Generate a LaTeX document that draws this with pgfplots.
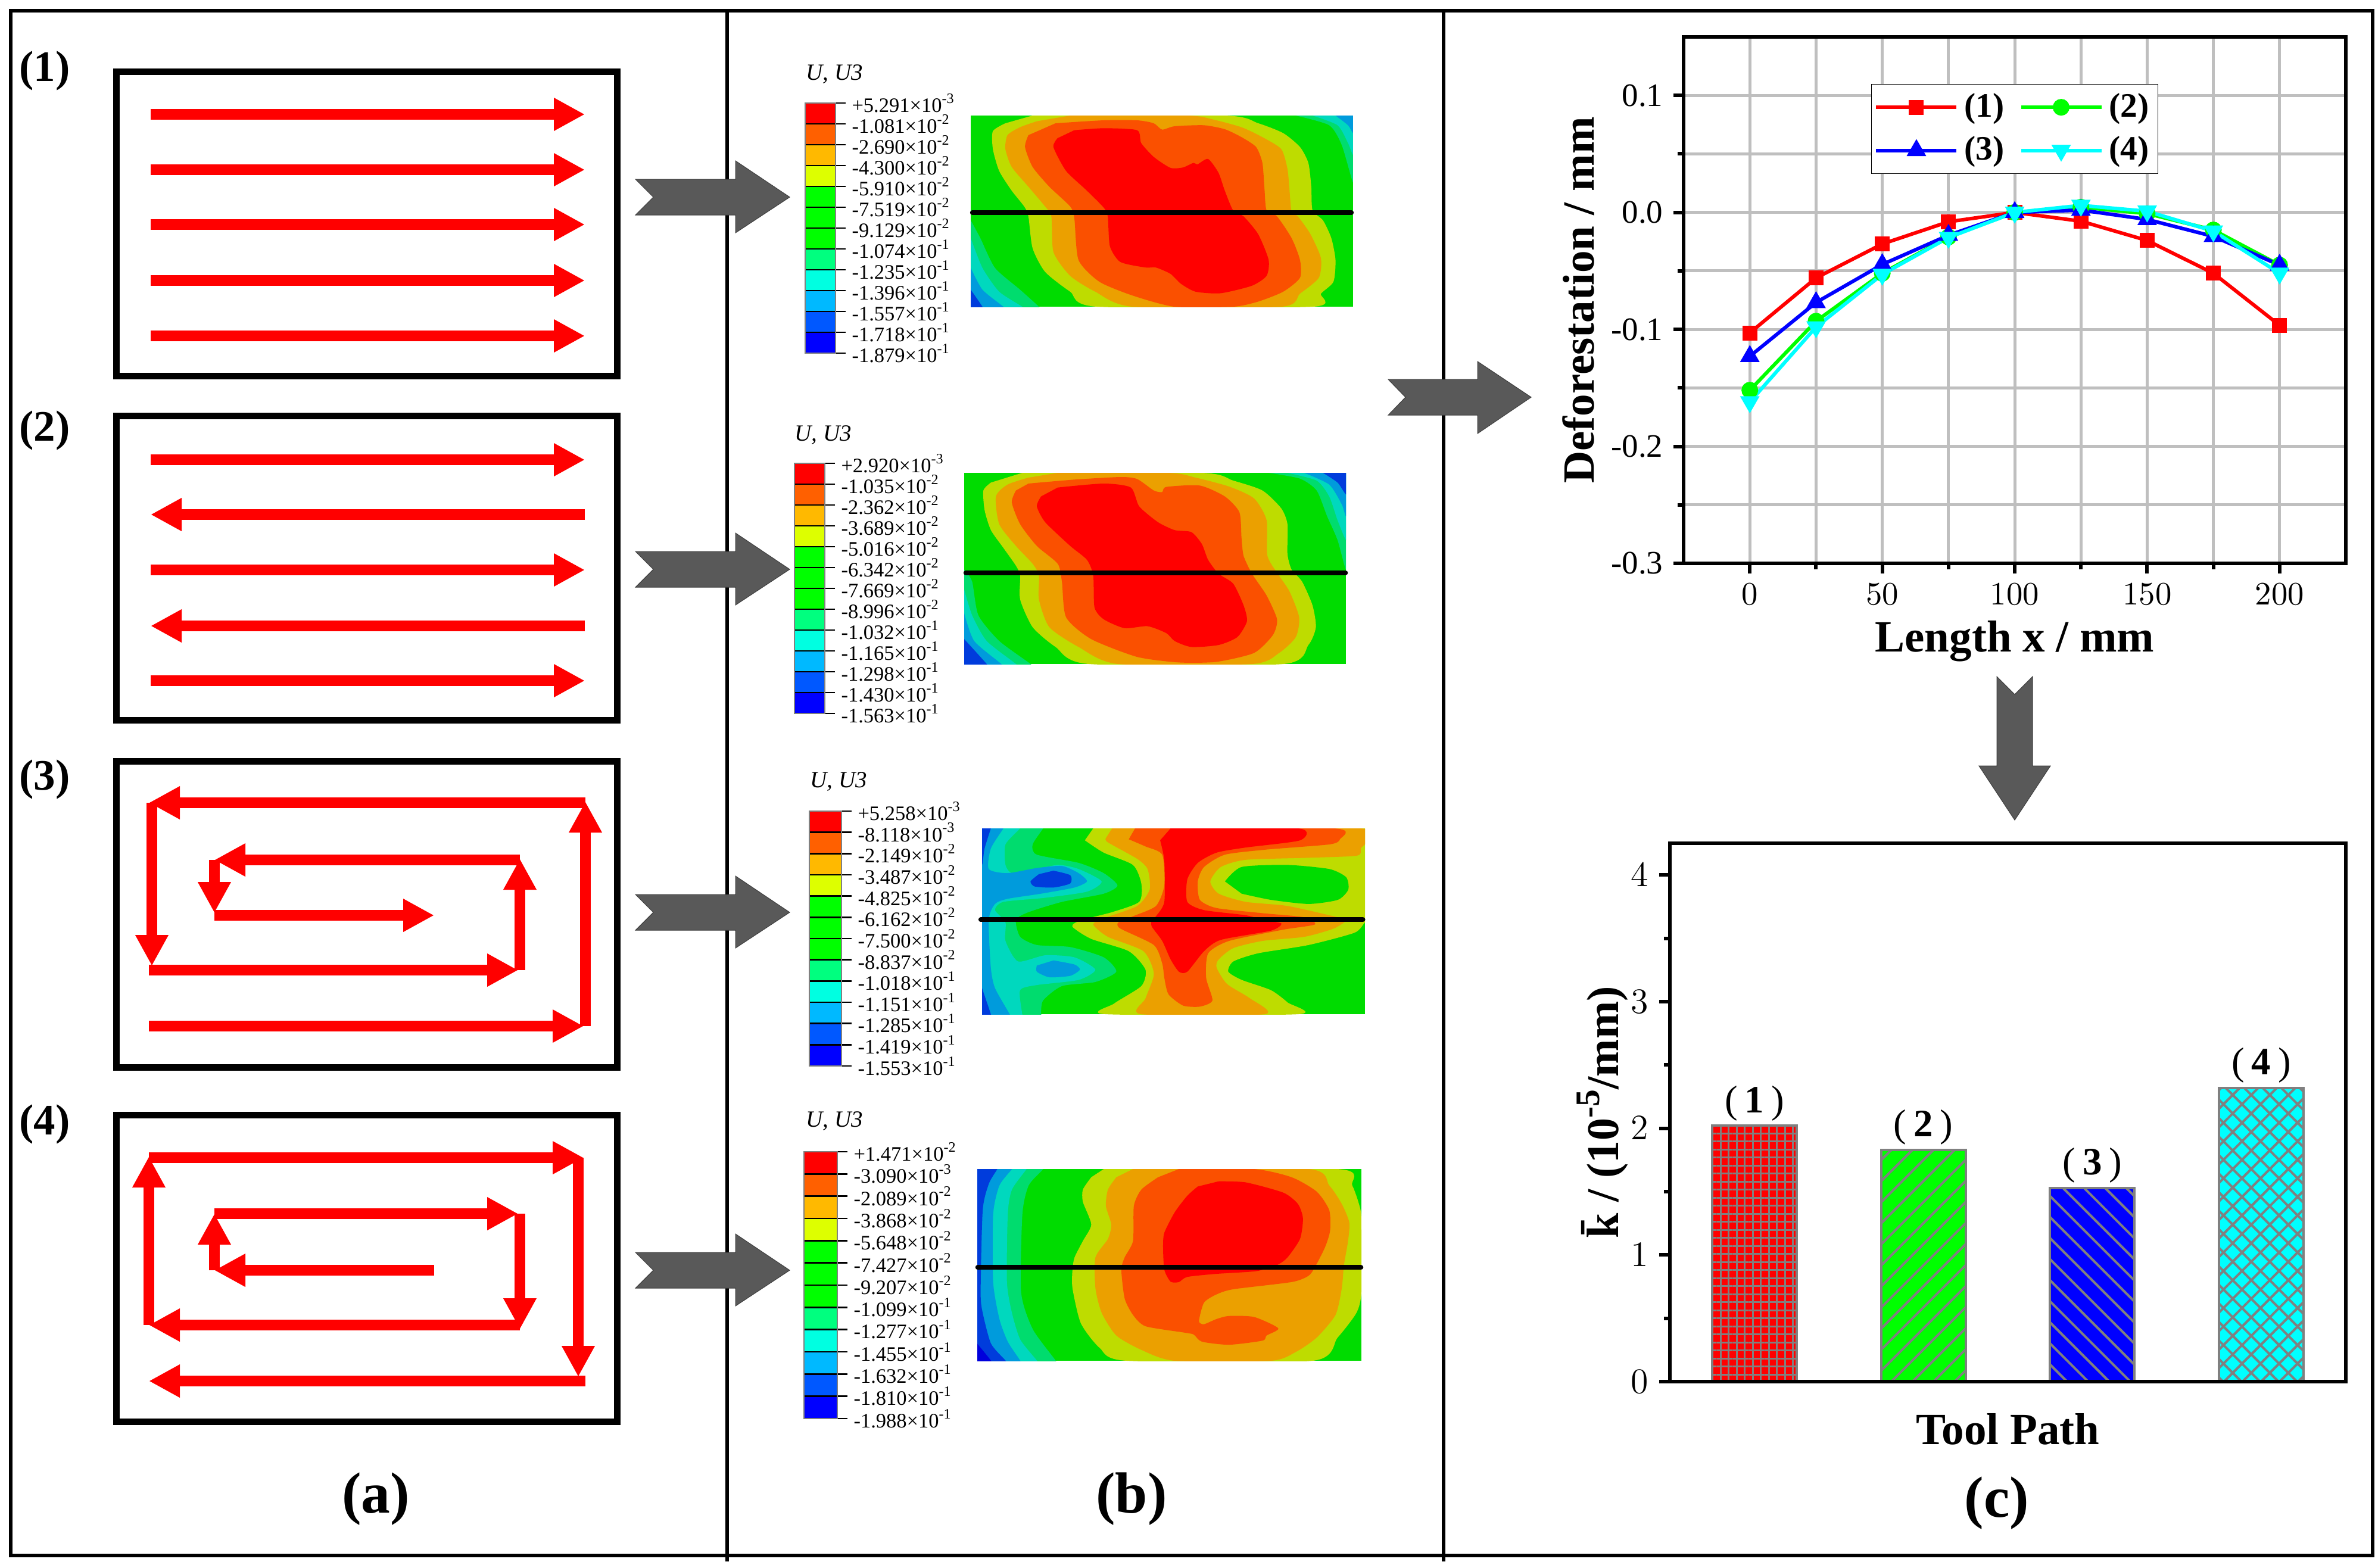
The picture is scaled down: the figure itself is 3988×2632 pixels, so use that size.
\documentclass[border=0pt]{standalone}
\usepackage{fontspec}
\setmainfont{Liberation Serif}
\usepackage{pgfplots}
\pgfplotsset{compat=1.18}
\usetikzlibrary{arrows.meta,patterns.meta}

% 1 reference pixel = 0.2pt
\newcommand{\fs}[1]{\fontsize{#1}{#1}\selectfont}
\newcommand{\lb}[2]{#1×10\textsuperscript{#2}}
\newcommand{\rg}[2]{\addplot[fill=#1,draw=none,smooth,tension=0.4] coordinates {#2};}
\newcommand{\barlab}[1]{{\mdseries(}\hspace{2.4pt}#1\hspace{2.4pt}{\mdseries)}}
\newcommand{\sect}[2]{\addplot[black,mark=none,line width=1.6pt,line cap=round] coordinates {(#1)(#2)};}

\definecolor{cG}{RGB}{0,220,0}
\definecolor{cL}{RGB}{0,220,110}
\definecolor{cC}{RGB}{0,216,190}
\definecolor{cB}{RGB}{0,155,220}
\definecolor{cD}{RGB}{0,60,220}
\definecolor{cN}{RGB}{0,0,220}
\definecolor{cY}{RGB}{190,220,0}
\definecolor{cO}{RGB}{235,160,0}
\definecolor{cR}{RGB}{250,80,0}
\definecolor{cK}{RGB}{255,0,0}
\definecolor{arrowgray}{RGB}{89,89,89}
\definecolor{pureCyan}{RGB}{0,255,255}

\pgfplotsset{
  cmap/.style={anchor=north west,scale only axis,hide axis,y dir=reverse},
  map1/.style={cmap,at={(1630*0.2pt,-194*0.2pt)},width=642*0.2pt,height=321*0.2pt,xmin=542,xmax=1457,ymin=281,ymax=1246},
  map2/.style={cmap,at={(1619*0.2pt,-794*0.2pt)},width=641*0.2pt,height=321*0.2pt,xmin=526,xmax=1440,ymin=281,ymax=1246},
  map3/.style={cmap,at={(1649*0.2pt,-1391*0.2pt)},width=643*0.2pt,height=312*0.2pt,xmin=569,xmax=1485,ymin=322,ymax=1227},
  map4/.style={cmap,at={(1641*0.2pt,-1963*0.2pt)},width=645*0.2pt,height=322*0.2pt,xmin=557,xmax=1477,ymin=300,ymax=1233},
}

% colour scale: x, y, w, h, labels from the bottom up
\newcommand{\uscale}[5]{%
\begin{axis}[at={(#1*0.2pt,-#2*0.2pt)},anchor=north west,scale only axis,
    width=#3*0.2pt,height=#4*0.2pt,
    xmin=0,xmax=1,ymin=0,ymax=12,xtick=\empty,ytick={0,...,12},
    yticklabels={#5},ytick pos=right,tick align=outside,
    major tick length=3.4pt,tick style={black,line width=0.5pt},
    ymajorgrids,major grid style={black,line width=0.5pt},
    axis on top,axis line style={gray,line width=0.4pt},
    yticklabel style={font=\fs{6.9},inner sep=1.5pt,xshift=0.4pt}]
  \addplot[fill=blue,draw=none] coordinates {(0,0)(1,0)(1,1)(0,1)};
  \addplot[fill={rgb,255:red,0;green,88;blue,255},draw=none] coordinates {(0,1)(1,1)(1,2)(0,2)};
  \addplot[fill={rgb,255:red,0;green,185;blue,255},draw=none] coordinates {(0,2)(1,2)(1,3)(0,3)};
  \addplot[fill={rgb,255:red,0;green,255;blue,225},draw=none] coordinates {(0,3)(1,3)(1,4)(0,4)};
  \addplot[fill={rgb,255:red,0;green,255;blue,127},draw=none] coordinates {(0,4)(1,4)(1,5)(0,5)};
  \addplot[fill={rgb,255:red,0;green,255;blue,0},draw=none] coordinates {(0,5)(1,5)(1,8)(0,8)};
  \addplot[fill={rgb,255:red,221;green,255;blue,0},draw=none] coordinates {(0,8)(1,8)(1,9)(0,9)};
  \addplot[fill={rgb,255:red,255;green,185;blue,0},draw=none] coordinates {(0,9)(1,9)(1,10)(0,10)};
  \addplot[fill={rgb,255:red,255;green,96;blue,0},draw=none] coordinates {(0,10)(1,10)(1,11)(0,11)};
  \addplot[fill={rgb,255:red,255;green,0;blue,0},draw=none] coordinates {(0,11)(1,11)(1,12)(0,12)};
\end{axis}}

\begin{document}
\begin{tikzpicture}
\begin{scope}[x=0.2pt,y=-0.2pt]
  \path[use as bounding box] (0,0) rectangle (3988,2632);
  % panel frame
  \draw[line width=1.2pt] (18,18) rectangle (3984,2612);
  \draw[line width=1.2pt] (1221,15) -- (1221,2622);
  \draw[line width=1.2pt] (2424,15) -- (2424,2622);
  % path boxes
  \draw[line width=2.2pt] (195.5,120.5) rectangle (1036.5,631.5);
  \draw[line width=2.2pt] (195.5,698.5) rectangle (1036.5,1209.5);
  \draw[line width=2.2pt] (195.5,1278.5) rectangle (1036.5,1792.5);
  \draw[line width=2.2pt] (195.5,1872.5) rectangle (1036.5,2387.5);
  \begin{scope}[red,line width=3.6pt,-{Triangle[length=10.4pt,width=10.4pt]}]
    \draw (253,192) -- (982,192);
    \draw (253,285) -- (982,285);
    \draw (253,377) -- (982,377);
    \draw (253,471) -- (982,471);
    \draw (253,564) -- (982,564);
    \draw (253,772) -- (982,772);
    \draw (982,864) -- (253,864);
    \draw (253,957) -- (982,957);
    \draw (982,1051) -- (253,1051);
    \draw (253,1143) -- (982,1143);
    % path 3
    \draw (250,1723) -- (980,1723);
    \draw (983,1723) -- (983,1346);
    \draw (983,1348) -- (250,1348);
    \draw (255,1348) -- (255,1622);
    \draw (250,1629) -- (870,1629);
    \draw (873,1629) -- (873,1442);
    \draw (873,1444) -- (360,1444);
    \draw (360,1444) -- (360,1533);
    \draw (360,1537) -- (729,1537);
    % path 4
    \draw (729,2133) -- (360,2133);
    \draw (360,2133) -- (360,2038);
    \draw (360,2038) -- (870,2038);
    \draw (873,2038) -- (873,2232);
    \draw (873,2225) -- (250,2225);
    \draw (250,2225) -- (250,1942);
    \draw (250,1944) -- (980,1944);
    \draw (971,1944) -- (971,2312);
    \draw (983,2319) -- (250,2319);
  \end{scope}
  % panel numbers
  \node[font=\fs{14.6}\bfseries] at (75,119) {(1)};
  \node[font=\fs{14.6}\bfseries] at (75,723) {(2)};
  \node[font=\fs{14.6}\bfseries] at (75,1309) {(3)};
  \node[font=\fs{14.6}\bfseries] at (75,1888) {(4)};
  \node[font=\fs{19.5}\bfseries] at (631,2517) {(a)};
  \node[font=\fs{19.5}\bfseries] at (1900,2517) {(b)};
  \node[font=\fs{19.5}\bfseries] at (3353,2524) {(c)};
  \node[font=\fs{7.8}\itshape] at (1401,125) {U, U3};
  \node[font=\fs{7.8}\itshape] at (1382,731) {U, U3};
  \node[font=\fs{7.8}\itshape] at (1408,1313) {U, U3};
  \node[font=\fs{7.8}\itshape] at (1401,1883) {U, U3};
\end{scope}

% colour scales
\uscale{1352}{173}{51}{420}{\lb{-1.879}{-1},\lb{-1.718}{-1},\lb{-1.557}{-1},\lb{-1.396}{-1},\lb{-1.235}{-1},\lb{-1.074}{-1},\lb{-9.129}{-2},\lb{-7.519}{-2},\lb{-5.910}{-2},\lb{-4.300}{-2},\lb{-2.690}{-2},\lb{-1.081}{-2},\lb{+5.291}{-3}}
\uscale{1334}{778}{51}{420}{\lb{-1.563}{-1},\lb{-1.430}{-1},\lb{-1.298}{-1},\lb{-1.165}{-1},\lb{-1.032}{-1},\lb{-8.996}{-2},\lb{-7.669}{-2},\lb{-6.342}{-2},\lb{-5.016}{-2},\lb{-3.689}{-2},\lb{-2.362}{-2},\lb{-1.035}{-2},\lb{+2.920}{-3}}
\uscale{1359}{1362}{54}{428}{\lb{-1.553}{-1},\lb{-1.419}{-1},\lb{-1.285}{-1},\lb{-1.151}{-1},\lb{-1.018}{-1},\lb{-8.837}{-2},\lb{-7.500}{-2},\lb{-6.162}{-2},\lb{-4.825}{-2},\lb{-3.487}{-2},\lb{-2.149}{-2},\lb{-8.118}{-3},\lb{+5.258}{-3}}
\uscale{1350}{1934}{56}{448}{\lb{-1.988}{-1},\lb{-1.810}{-1},\lb{-1.632}{-1},\lb{-1.455}{-1},\lb{-1.277}{-1},\lb{-1.099}{-1},\lb{-9.207}{-2},\lb{-7.427}{-2},\lb{-5.648}{-2},\lb{-3.868}{-2},\lb{-2.089}{-2},\lb{-3.090}{-3},\lb{+1.471}{-2}}

% contour map 1
\begin{axis}[map1]
  \addplot[fill=cG,draw=none] coordinates {(542,281)(1457,281)(1457,1246)(542,1246)};
  \rg{cL}{(1320,281)(1400,330)(1430,430)(1457,620)(1470,620)(1470,270)(1320,270)}
  \rg{cC}{(1360,281)(1420,330)(1445,420)(1457,480)(1470,480)(1470,270)(1360,270)}
  \rg{cB}{(1415,281)(1445,330)(1457,370)(1470,370)(1470,270)(1415,270)}
  \rg{cL}{(542,810)(565,900)(600,1050)(660,1160)(705,1246)(705,1260)(530,1260)(530,810)}
  \rg{cC}{(542,900)(570,1050)(610,1170)(665,1246)(665,1260)(530,1260)(530,900)}
  \rg{cB}{(542,1050)(570,1160)(620,1246)(620,1260)(530,1260)(530,1050)}
  \rg{cD}{(542,1160)(570,1246)(570,1260)(530,1260)(530,1160)}
  \rg{cY}{(690,281)(1150,281)(1230,320)(1290,370)(1330,440)(1350,520)(1357,640)(1360,760)(1385,810)(1405,900)(1415,1010)(1410,1120)(1380,1180)(1360,1246)(845,1246)(780,1170)(720,1070)(690,950)(680,790)(670,740)(640,660)(610,560)(595,450)(595,360)(625,320)}
  \rg{cO}{(780,281)(1060,281)(1120,300)(1190,340)(1240,390)(1285,450)(1300,550)(1305,660)(1310,770)(1325,790)(1355,880)(1380,1000)(1375,1100)(1330,1180)(1285,1246)(930,1246)(840,1170)(780,1090)(740,970)(735,790)(720,740)(680,640)(640,540)(625,450)(630,380)(660,340)(700,310)}
  \rg{cR}{(745,320)(860,305)(940,305)(980,320)(1000,352)(1030,335)(1100,330)(1150,350)(1190,390)(1225,440)(1240,520)(1245,650)(1250,760)(1275,790)(1310,900)(1330,1010)(1330,1100)(1290,1170)(1230,1220)(1170,1246)(1030,1246)(930,1190)(850,1120)(800,1010)(790,800)(780,740)(730,640)(690,540)(672,440)(680,380)}
  \rg{cK}{(790,355)(860,345)(940,355)(950,420)(980,490)(1020,545)(1050,543)(1075,520)(1085,527)(1110,500)(1135,570)(1150,660)(1170,760)(1195,790)(1230,880)(1255,1010)(1250,1090)(1215,1140)(1140,1178)(1080,1170)(1045,1130)(1020,1080)(985,1048)(960,1048)(900,1020)(875,940)(870,790)(860,745)(820,660)(770,560)(740,440)(750,395)}
\end{axis}

% contour map 2
\begin{axis}[map2]
  \addplot[fill=cG,draw=none] coordinates {(526,281)(1440,281)(1440,1246)(526,1246)};
  \rg{cL}{(1255,281)(1330,310)(1370,370)(1395,500)(1420,620)(1440,770)(1455,770)(1455,270)(1255,270)}
  \rg{cC}{(1300,281)(1370,320)(1400,400)(1420,520)(1440,620)(1455,620)(1455,270)(1300,270)}
  \rg{cB}{(1340,281)(1400,340)(1430,440)(1440,500)(1455,500)(1455,270)(1340,270)}
  \rg{cD}{(1385,281)(1420,330)(1440,390)(1455,390)(1455,270)(1385,270)}
  \rg{cL}{(526,770)(545,830)(560,1000)(610,1130)(685,1246)(685,1260)(512,1260)(512,770)}
  \rg{cC}{(526,870)(545,1000)(580,1130)(650,1246)(650,1260)(512,1260)(512,870)}
  \rg{cB}{(526,990)(550,1130)(615,1246)(615,1260)(512,1260)(512,990)}
  \rg{cD}{(526,1120)(580,1246)(580,1260)(512,1260)(512,1120)}
  \rg{cY}{(665,281)(1095,281)(1170,320)(1240,370)(1285,460)(1300,540)(1300,690)(1310,770)(1335,830)(1360,950)(1368,1060)(1350,1150)(1290,1246)(825,1246)(745,1160)(690,1060)(660,920)(660,800)(650,750)(620,660)(590,570)(575,470)(572,370)(590,330)}
  \rg{cO}{(750,281)(1015,281)(1080,305)(1160,350)(1220,410)(1250,520)(1252,700)(1280,800)(1305,880)(1328,1010)(1320,1110)(1280,1190)(1215,1246)(895,1246)(800,1160)(730,1060)(705,920)(705,800)(690,740)(650,650)(610,540)(602,400)(630,340)(680,305)}
  \rg{cR}{(680,335)(790,315)(900,302)(940,312)(980,370)(1000,378)(1010,352)(1090,345)(1150,400)(1185,480)(1190,610)(1195,700)(1215,790)(1250,900)(1275,1020)(1265,1100)(1220,1190)(1130,1235)(1040,1238)(940,1210)(830,1120)(770,1010)(760,830)(750,740)(700,650)(660,540)(640,430)(650,370)}
  \rg{cK}{(750,355)(860,335)(925,355)(945,450)(990,530)(1030,570)(1070,580)(1095,640)(1110,720)(1135,790)(1170,840)(1195,950)(1203,1030)(1180,1110)(1135,1150)(1070,1160)(1030,1130)(1010,1090)(965,1055)(910,1065)(860,1020)(838,960)(835,800)(820,720)(780,650)(720,530)(700,450)(710,400)}
\end{axis}

% contour map 3
\begin{axis}[map3]
  \addplot[fill=cG,draw=none] coordinates {(569,322)(1485,322)(1485,1227)(569,1227)};
  \rg{cL}{(555,310)(715,310)(715,322)(690,400)(700,450)(800,490)(860,540)(893,600)(860,640)(760,680)(680,730)(650,767)(660,850)(700,890)(780,900)(860,950)(890,1020)(840,1070)(760,1090)(715,1160)(710,1227)(710,1240)(555,1240)}
  \rg{cC}{(555,310)(660,310)(660,322)(625,400)(625,500)(640,540)(680,530)(750,500)(800,520)(855,580)(820,630)(720,660)(620,680)(600,720)(625,780)(625,870)(655,970)(720,940)(790,950)(840,1010)(800,1060)(700,1085)(660,1110)(665,1227)(665,1240)(555,1240)}
  \rg{cB}{(555,310)(620,310)(620,322)(590,420)(585,520)(630,540)(700,515)(760,505)(800,540)(820,580)(790,610)(710,640)(630,665)(600,690)(585,767)(590,1000)(600,1100)(635,1227)(635,1240)(555,1240)}
  \rg{cD}{(555,310)(590,310)(590,322)(575,420)(569,500)(555,500)}
  \rg{cD}{(569,1100)(590,1227)(590,1240)(555,1240)(555,1100)}
  \rg{cD}{(740,528)(780,550)(780,590)(740,610)(695,605)(685,580)(705,545)}
  \rg{cB}{(740,965)(790,985)(803,1010)(780,1040)(730,1047)(700,1020)(700,990)}
  \rg{cY}{(835,322)(1485,322)(1500,322)(1500,780)(1485,780)(1460,830)(1350,890)(1230,930)(1170,970)(1158,1020)(1190,1060)(1260,1110)(1300,1170)(1325,1227)(865,1227)(885,1175)(950,1090)(960,1010)(920,920)(830,860)(785,800)(805,770)(880,730)(945,680)(950,590)(930,500)(860,440)(815,380)}
  \rg{cG}{(1150,580)(1190,510)(1300,500)(1400,520)(1440,560)(1445,620)(1420,670)(1350,690)(1260,670)(1190,640)}
  \rg{cO}{(880,322)(1475,322)(1475,420)(1465,455)(1350,465)(1200,475)(1140,510)(1115,580)(1135,640)(1200,680)(1300,700)(1420,755)(1440,770)(1410,810)(1340,850)(1240,870)(1170,905)(1135,960)(1130,1000)(1155,1080)(1210,1150)(1245,1227)(950,1227)(960,1150)(980,1030)(955,920)(870,850)(835,790)(860,760)(940,700)(970,620)(965,520)(940,470)(870,390)(865,370)}
  \rg{cR}{(935,322)(1410,322)(1425,375)(1400,400)(1250,425)(1150,450)(1100,510)(1085,580)(1090,670)(1130,710)(1240,735)(1340,755)(1365,790)(1290,815)(1160,870)(1110,930)(1105,1050)(1120,1160)(1090,1190)(1050,1185)(1015,1130)(1005,1050)(1000,980)(980,890)(900,810)(895,780)(930,750)(985,700)(1005,600)(1000,450)(960,410)(920,375)}
  \rg{cK}{(1020,322)(1325,322)(1330,380)(1200,415)(1130,440)(1085,490)(1060,570)(1060,680)(1100,720)(1200,745)(1240,767)(1285,785)(1260,820)(1140,865)(1100,920)(1060,1020)(1040,1020)(1020,960)(1000,870)(975,800)(975,770)(985,750)(1005,680)(1005,480)(995,380)}
\end{axis}

% contour map 4
\begin{axis}[map4]
  \addplot[fill=cG,draw=none] coordinates {(557,300)(1477,300)(1477,1233)(557,1233)};
  \rg{cL}{(540,285)(715,285)(715,300)(680,380)(665,520)(662,900)(690,1080)(745,1233)(745,1250)(540,1250)}
  \rg{cC}{(540,285)(675,285)(675,300)(640,400)(630,520)(628,850)(640,1000)(660,1130)(700,1233)(700,1250)(540,1250)}
  \rg{cB}{(540,285)(640,285)(640,300)(610,380)(595,520)(595,850)(610,1030)(630,1140)(660,1233)(660,1250)(540,1250)}
  \rg{cD}{(540,285)(605,285)(605,300)(585,370)(570,500)(565,900)(570,1000)(590,1150)(625,1233)(625,1250)(540,1250)}
  \rg{cN}{(557,1150)(590,1233)(590,1250)(540,1250)(540,1150)}
  \rg{cY}{(860,300)(1420,300)(1455,380)(1475,500)(1477,600)(1477,900)(1465,1000)(1420,1120)(1360,1233)(915,1233)(850,1170)(805,1050)(785,880)(785,790)(790,730)(810,650)(830,570)(810,460)(810,400)(830,340)}
  \rg{cO}{(930,300)(1350,300)(1400,380)(1430,470)(1448,560)(1445,650)(1435,770)(1430,880)(1415,1010)(1370,1120)(1320,1190)(1260,1233)(1030,1233)(950,1180)(890,1110)(855,1000)(840,880)(840,730)(870,640)(878,570)(865,480)(870,400)(890,340)}
  \rg{cR}{(1040,300)(1220,300)(1310,340)(1370,410)(1400,500)(1402,600)(1390,680)(1365,780)(1350,820)(1310,850)(1170,885)(1130,910)(1100,950)(1088,1040)(1100,1055)(1130,1030)(1160,1015)(1220,1020)(1278,1075)(1250,1110)(1240,1135)(1160,1155)(1095,1140)(1075,1105)(1050,1095)(960,1065)(930,1010)(910,930)(902,790)(910,730)(930,650)(932,480)(950,400)(990,340)}
  \rg{cK}{(1135,360)(1200,365)(1290,415)(1325,470)(1337,540)(1330,640)(1300,730)(1275,767)(1225,797)(1130,810)(1060,825)(1040,850)(1020,848)(1005,790)(1002,680)(1005,610)(1030,510)(1060,430)(1085,385)}
\end{axis}

% section lines, unclipped so that the round ends stand past the maps
\begin{axis}[map1,clip=false] \sect{546,771}{1453,771} \end{axis}
\begin{axis}[map2,clip=false] \sect{530,785}{1439,785} \end{axis}
\begin{axis}[map3,clip=false] \sect{566,767}{1480,767} \end{axis}
\begin{axis}[map4,clip=false] \sect{558,779}{1476,779} \end{axis}

% deformation curves
\begin{axis}[at={(2827*0.2pt,-62*0.2pt)},anchor=north west,scale only axis,
    width=1112*0.2pt,height=884*0.2pt,
    xmin=-25,xmax=225,ymin=-0.3,ymax=0.15,
    xtick={0,50,100,150,200},minor xtick={25,75,125,175},
    ytick={-0.3,-0.2,-0.1,0,0.1},minor ytick={-0.25,-0.15,-0.05,0.05},
    yticklabels={-0.3,-0.2,-0.1,0.0,0.1},
    xtick pos=bottom,ytick pos=left,tick align=outside,
    major tick length=3.4pt,minor tick length=2pt,
    tick style={black,line width=1.2pt},
    axis line style={line width=1.3pt},
    grid=both,major grid style={draw=black!25,line width=1pt},minor grid style={draw=black!25,line width=1pt},
    tick label style={font=\fs{11}},
    every axis x label/.style={at={(axis description cs:0.5,-0.148)},anchor=center},
    every axis y label/.style={at={(axis description cs:-0.159,0.5)},rotate=90,anchor=center},
    xlabel={\fs{15}\bfseries Length x / mm},
    ylabel={\fs{15}\bfseries Deforestation / mm},
    legend columns=2,
    legend cell align=left,
    legend style={at={(0.283,0.911)},anchor=north west,draw=black,line width=0.3pt,font=\fs{11.5}\bfseries,inner xsep=1pt,inner ysep=1pt,row sep=1pt,
      /tikz/every even column/.append style={column sep=3pt}},
    legend image code/.code={\draw[mark repeat=2,mark phase=2,#1] plot coordinates {(0pt,0pt)(13.5pt,0pt)(27pt,0pt)};},
    every axis plot/.append style={line width=1.2pt},
  ]
  \addplot[red,mark=square*,mark size=1.9pt,mark options={solid,fill=red}] coordinates {
    (0,-0.103)(25,-0.056)(50,-0.027)(75,-0.008)(100,0)(125,-0.0075)(150,-0.024)(175,-0.052)(200,-0.0965)};
  \addlegendentry{(1)}
  \addplot[green,mark=*,mark size=2.2pt,mark options={solid,fill=green}] coordinates {
    (0,-0.152)(25,-0.093)(50,-0.052)(75,-0.021)(100,0)(125,0.0045)(150,-0.001)(175,-0.015)(200,-0.045)};
  \addlegendentry{(2)}
  \addplot[blue,mark=triangle*,mark size=2.6pt,mark options={solid,fill=blue}] coordinates {
    (0,-0.123)(25,-0.077)(50,-0.0445)(75,-0.0195)(100,0)(125,0.002)(150,-0.006)(175,-0.0205)(200,-0.045)};
  \addlegendentry{(3)}
  \addplot[pureCyan,mark=triangle*,mark size=2.6pt,mark options={solid,fill=pureCyan,rotate=180}] coordinates {
    (0,-0.162)(25,-0.098)(50,-0.053)(75,-0.0215)(100,0)(125,0.006)(150,0.001)(175,-0.016)(200,-0.052)};
  \addlegendentry{(4)}
\end{axis}

% curvature bars
\begin{axis}[at={(2804*0.2pt,-1416*0.2pt)},anchor=north west,scale only axis,
    width=1135*0.2pt,height=904*0.2pt,
    xmin=0.5,xmax=4.5,ymin=0,ymax=4.25,
    xtick=\empty,ytick={0,1,2,3,4},minor ytick={0.5,1.5,2.5,3.5},
    ytick pos=left,tick align=outside,
    major tick length=3.6pt,minor tick length=2pt,
    tick style={black,line width=1.2pt},
    axis line style={line width=1.3pt},
    tick label style={font=\fs{12}},
    ybar,bar width=0.5,bar shift=0pt,
    clip=false,axis on top,
    every axis x label/.style={at={(axis description cs:0.5,-0.0885)},anchor=center},
    every axis y label/.style={at={(axis description cs:-0.1,0.5)},rotate=90,anchor=center},
    xlabel={\fs{15}\bfseries Tool Path},
    ylabel={\fs{15.2}\bfseries \=k / (10\raisebox{0.42em}{\fs{11.5}-5}/mm)},
  ]
  \addplot[draw=gray,line width=0.8pt,fill=red,postaction={pattern={Hatch[angle=0,distance=2.7pt,line width=0.6pt]},pattern color=gray}] coordinates {(1,2.02)};
  \addplot[draw=gray,line width=0.8pt,fill=green,postaction={pattern={Lines[angle=45,distance=5pt,line width=0.8pt]},pattern color=gray}] coordinates {(2,1.83)};
  \addplot[draw=gray,line width=0.8pt,fill=blue,postaction={pattern={Lines[angle=-45,distance=5pt,line width=0.8pt]},pattern color=gray}] coordinates {(3,1.53)};
  \addplot[draw=gray,line width=0.8pt,fill=pureCyan,postaction={pattern={Hatch[angle=45,distance=4.4pt,line width=0.8pt]},pattern color=gray}] coordinates {(4,2.32)};
  \node[anchor=south,font=\fs{13}\bfseries,inner sep=1.5pt] at (axis cs:1,2.02) {\barlab{1}};
  \node[anchor=south,font=\fs{13}\bfseries,inner sep=1.5pt] at (axis cs:2,1.83) {\barlab{2}};
  \node[anchor=south,font=\fs{13}\bfseries,inner sep=1.5pt] at (axis cs:3,1.53) {\barlab{3}};
  \node[anchor=south,font=\fs{13}\bfseries,inner sep=1.5pt] at (axis cs:4,2.32) {\barlab{4}};
\end{axis}

% flow arrows
\begin{scope}[x=0.2pt,y=-0.2pt]
  \foreach \cy in {331,956,1532,2133}{
    \filldraw[fill=arrowgray,draw=arrowgray!70!black,line width=0.2pt]
      (1067,\cy-30) -- (1235,\cy-30) -- (1235,\cy-61) -- (1326,\cy) -- (1235,\cy+60) -- (1235,\cy+30) -- (1067,\cy+30) -- (1097,\cy) -- cycle;
  }
  \filldraw[fill=arrowgray,draw=arrowgray!70!black,line width=0.2pt]
    (2331,637) -- (2481,637) -- (2481,607) -- (2571,667) -- (2481,728) -- (2481,697) -- (2331,697) -- (2360,667) -- cycle;
  \filldraw[fill=arrowgray,draw=arrowgray!70!black,line width=0.2pt]
    (3353,1136) -- (3383,1166) -- (3413,1136) -- (3413,1286) -- (3443,1286) -- (3383,1377) -- (3323,1286) -- (3353,1286) -- cycle;
\end{scope}
\end{tikzpicture}
\end{document}
